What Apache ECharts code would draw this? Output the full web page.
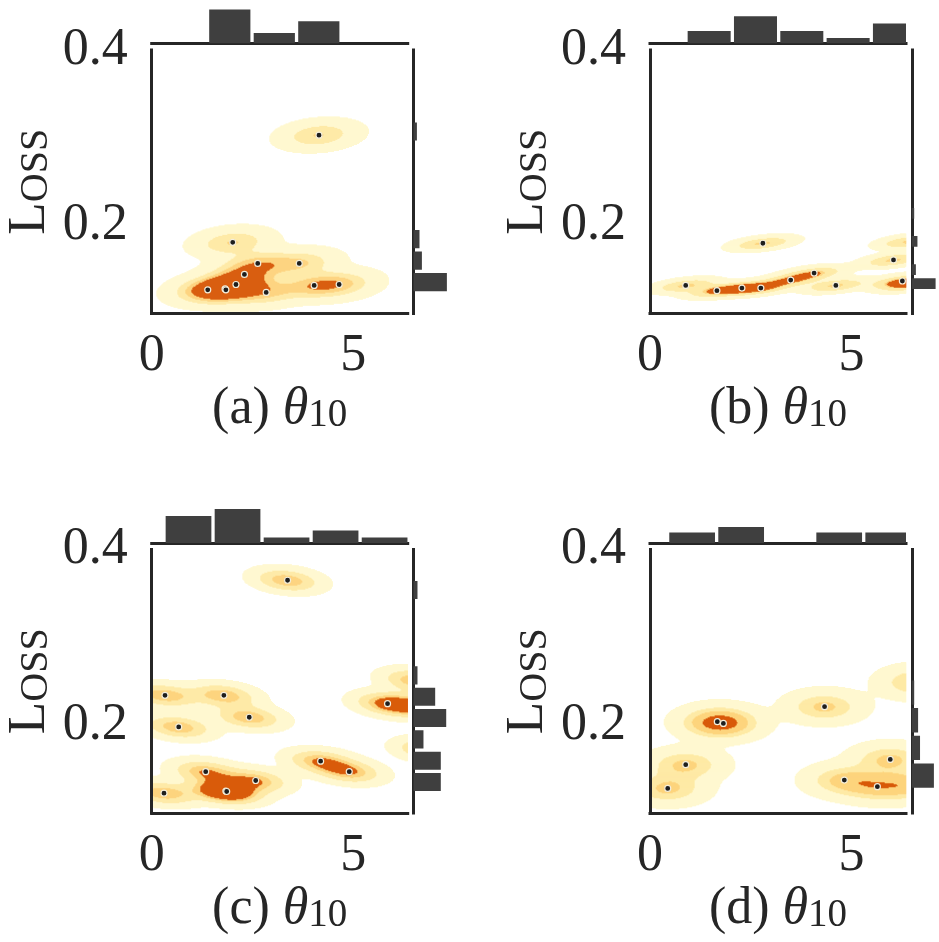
<!DOCTYPE html>
<html>
<head>
<meta charset="utf-8">
<script src="https://cdn.jsdelivr.net/npm/echarts@6/dist/echarts.min.js"></script>
<style>
  html, body { margin: 0; padding: 0; background: #fff; }
  #chart { width: 939px; height: 942px; }
</style>
</head>
<body>
<div id="chart"></div>
<script>
// points (theta_10, loss) for each run; the last ones of b, c, d lie past the
// right limit, only their density shows at the edge
const thetaA = [4.15, 2.01, 2.63, 3.66, 2.30, 1.39, 1.82, 1.84, 2.09, 2.84, 4.03, 4.65];
const lossA  = [0.303, 0.181, 0.157, 0.157, 0.1445, 0.127, 0.128, 0.127, 0.133, 0.124, 0.132, 0.133];
const thetaB = [2.80, 0.886, 1.66, 2.28, 2.75, 3.49, 4.07, 4.61, 6.04, 6.26, 6.45, 6.42];
const lossB  = [0.180, 0.132, 0.126, 0.129, 0.129, 0.138, 0.146, 0.132, 0.161, 0.137, 0.182, 0.133];
const thetaC = [3.37, 0.33, 1.79, 2.42, 0.67, 5.85, 4.19, 4.90, 1.34, 2.58, 1.84, 1.86, 0.305, 6.45, 6.55, 6.9];
const lossC  = [0.365, 0.234, 0.234, 0.209, 0.198, 0.2245, 0.159, 0.147, 0.147, 0.137, 0.125, 0.1245, 0.1226, 0.222, 0.251, 0.172];
const thetaD = [1.67, 1.82, 4.33, 0.886, 0.44, 4.82, 5.64, 5.96, 6.65, 6.55];
const lossD  = [0.204, 0.202, 0.221, 0.155, 0.128, 0.1375, 0.130, 0.161, 0.249, 0.132];

// top marginal histograms: first edge, bin width, bar heights
const topStartA = 1.385, topWidthA = 1.104, topHistA = [6.44, 2.0, 4.2];
const topStartB = 0.893, topWidthB = 1.149, topHistB = [2.38, 5.16, 2.38, 1.05, 3.77];
const topStartC = 0.305, topWidthC = 1.216, topHistC = [5.14, 6.48, 1.03, 2.36, 1.03];
const topStartD = 0.437, topWidthD = 1.216, topHistD = [1.98, 3.05, 0, 1.98, 1.98];

// right marginal histograms (over loss)
const rightStartA = 0.12345, rightWidthA = 0.0245, rightHistA = [6.36, 1.6, 1.14, 0, 0, 0, 0, 0.65];
const rightStartB = 0.126, rightWidthB = 0.016, rightHistB = [7.0, 1.2, 0, 1.66, 0, 0.7];
const rightStartC = 0.12305, rightWidthC = 0.0243, rightHistC = [5.2, 5.2, 1.9, 6.23, 4.13, 0.76, 0, 0, 0, 0.76];
const rightStartD = 0.12685, rightWidthD = 0.0315, rightHistD = [6.5, 2.42, 1.85, 0.7];

const xTicks = [0, 5];
const yTicks = [0.2, 0.4];
const panelTags = ['a', 'b', 'c', 'd'];

// kde kernel per panel: [sigma theta, sigma loss, correlation], and the
// contour levels as multiples of one kernel's peak
const kernels = [[0.52, 0.0088, 0.2], [0.45, 0.0048, 0.45], [0.5, 0.0082, -0.25], [0.54, 0.0103, 0]];
const levels = [[0.06, 0.51, 0.97, 1.42], [0.07, 0.45, 0.92, 1.05], [0.08, 0.4, 0.76, 1.02], [0.074, 0.5, 0.88, 1.45]];
const kdeColors = ['#fff8d0', '#feeaa6', '#fdd47e', '#d95b0a'];
const INK = '#262626';
const BAR = '#3f3f3f';
const FONT = 'Liberation Serif';

const XMIN = 0, XMAX = 6.35, YMIN = 0.1, YMAX = 0.4;
const NX = 256, NY = 264;

const cols = [151.7, 650], rows = [50, 549.5];
const W = 256, H = 263.5;

const panels = [
  { xs: thetaA, ys: lossA, top: [topStartA, topWidthA, topHistA], right: [rightStartA, rightWidthA, rightHistA] },
  { xs: thetaB, ys: lossB, top: [topStartB, topWidthB, topHistB], right: [rightStartB, rightWidthB, rightHistB] },
  { xs: thetaC, ys: lossC, top: [topStartC, topWidthC, topHistC], right: [rightStartC, rightWidthC, rightHistC] },
  { xs: thetaD, ys: lossD, top: [topStartD, topWidthD, topHistD], right: [rightStartD, rightWidthD, rightHistD] }
];

// sum of gaussian kernels, binned into the filled contour bands
function kdeCells(xs, ys, kern, lv) {
  const [sx, sy, r] = kern;
  const q = 1 - r * r;
  const out = [];
  for (let i = 0; i < NX; i++) {
    const x = XMIN + (i + 0.5) * (XMAX - XMIN) / NX;
    for (let j = 0; j < NY; j++) {
      const y = YMIN + (j + 0.5) * (YMAX - YMIN) / NY;
      let d = 0;
      for (let k = 0; k < xs.length; k++) {
        const u = (x - xs[k]) / sx, v = (y - ys[k]) / sy;
        d += Math.exp(-0.5 * (u * u - 2 * r * u * v + v * v) / q);
      }
      let band = 0;
      for (const l of lv) if (d >= l) band++;
      if (band > 0) out.push([i, j, band]);
    }
  }
  return out;
}

function histTop(params, api) {
  const a = api.coord([api.value(0), 0]);
  const b = api.coord([api.value(1), api.value(2)]);
  return { type: 'rect', shape: { x: a[0] + 1.65, y: b[1], width: b[0] - a[0] - 3.3, height: a[1] - b[1] }, style: { fill: BAR } };
}
function histRight(params, api) {
  const a = api.coord([0, api.value(0)]);
  const b = api.coord([api.value(2), api.value(1)]);
  return { type: 'rect', shape: { x: a[0], y: b[1] + 1.65, width: b[0] - a[0], height: a[1] - b[1] - 3.3 }, style: { fill: BAR } };
}

const idx = Array.from({ length: NX }, (_, i) => i);
const idy = Array.from({ length: NY }, (_, i) => i);
const spine = { show: true, lineStyle: { color: INK, width: 3, cap: 'square' } };

const grid = [], xAxis = [], yAxis = [], heat = [], dots = [], bars = [];

panels.forEach((p, k) => {
  const left = cols[k % 2], top = rows[Math.floor(k / 2)];
  grid.push({ left: left, top: top, width: W, height: H });
  grid.push({ left: left, top: top - 6.6 - 42, width: W, height: 42 });
  grid.push({ left: left + W + 5.8, top: top, width: 42, height: H });
  const g = 3 * k, a = 4 * k;

  xAxis.push({
    gridIndex: g, type: 'value', min: XMIN, max: XMAX, z: 6,
    axisLine: spine, axisTick: { show: false }, splitLine: { show: false },
    axisLabel: { customValues: xTicks, margin: 17, fontSize: 52, fontFamily: FONT, color: INK },
    name: '{t|(' + panelTags[k] + ') }{th|θ}{s|10}', nameLocation: 'middle', nameGap: 70,
    nameTextStyle: {
      rich: {
        t: { fontSize: 52, fontFamily: FONT, color: INK },
        th: { fontSize: 52, fontFamily: FONT, fontStyle: 'italic', color: INK },
        s: { fontSize: 39, fontFamily: FONT, color: INK, lineHeight: 31, verticalAlign: 'bottom' }
      }
    }
  });
  xAxis.push({ gridIndex: g, type: 'category', data: idx, show: false });
  xAxis.push({ gridIndex: g + 1, type: 'value', min: XMIN, max: XMAX, axisLine: spine, axisTick: { show: false }, axisLabel: { show: false }, splitLine: { show: false } });
  xAxis.push({ gridIndex: g + 2, type: 'value', min: 0, max: 8, show: false });

  yAxis.push({
    gridIndex: g, type: 'value', min: YMIN, max: YMAX, z: 6,
    axisLine: spine, axisTick: { show: false }, splitLine: { show: false },
    axisLabel: { customValues: yTicks, margin: 24, fontSize: 52, fontFamily: FONT, color: INK, padding: [5, 0, 0, 0], formatter: v => v.toFixed(1) },
    name: '{L|L}{s|OSS}', nameLocation: 'middle', nameRotate: 90, nameGap: 95,
    nameTextStyle: {
      rich: {
        L: { fontSize: 53, fontFamily: FONT, color: INK, verticalAlign: 'bottom' },
        s: { fontSize: 40, fontFamily: FONT, color: INK, verticalAlign: 'bottom' }
      }
    }
  });
  yAxis.push({ gridIndex: g, type: 'category', data: idy, show: false });
  yAxis.push({ gridIndex: g + 1, type: 'value', min: 0, max: 8, show: false });
  yAxis.push({ gridIndex: g + 2, type: 'value', min: YMIN, max: YMAX, axisLine: spine, axisTick: { show: false }, axisLabel: { show: false }, splitLine: { show: false } });

  heat.push({
    type: 'heatmap', xAxisIndex: a + 1, yAxisIndex: a + 1, data: kdeCells(p.xs, p.ys, kernels[k], levels[k]),
    progressive: 0, silent: true, z: 1
  });
  dots.push({
    type: 'scatter', xAxisIndex: a, yAxisIndex: a, data: p.xs.map((x, i) => [x, p.ys[i]]),
    symbolSize: 6, clip: true, silent: true, z: 3,
    itemStyle: { color: '#1e1e1e', borderColor: '#f4eedb', borderWidth: 1.2, opacity: 1 }
  });
  const [ts, tw, th] = p.top;
  bars.push({
    type: 'custom', xAxisIndex: a + 2, yAxisIndex: a + 2, clip: true, silent: true, renderItem: histTop,
    data: th.map((h, i) => [ts + i * tw, ts + (i + 1) * tw, h]).filter(d => d[2] > 0)
  });
  const [rs, rw, rh] = p.right;
  bars.push({
    type: 'custom', xAxisIndex: a + 3, yAxisIndex: a + 3, clip: true, silent: true, renderItem: histRight,
    data: rh.map((h, i) => [rs + i * rw, rs + (i + 1) * rw, h]).filter(d => d[2] > 0)
  });
});

const chart = echarts.init(document.getElementById('chart'), null, { renderer: 'canvas' });
chart.setOption({
  animation: false,
  backgroundColor: '#fff',
  grid: grid,
  xAxis: xAxis,
  yAxis: yAxis,
  visualMap: {
    type: 'piecewise', show: false, dimension: 2, seriesIndex: [0, 1, 2, 3],
    pieces: kdeColors.map((c, i) => ({ value: i + 1, color: c }))
  },
  series: heat.concat(dots, bars)
});
</script>
</body>
</html>
